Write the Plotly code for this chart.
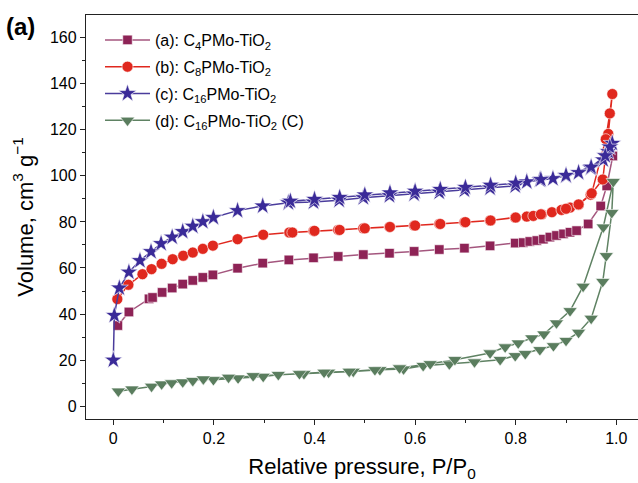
import plotly.graph_objects as go

# ---------------- data ----------------
# (a) C4PMo-TiO2 : squares
a_p = [0.009, 0.031, 0.071, 0.078, 0.097, 0.117, 0.138, 0.158, 0.178, 0.198, 0.247, 0.297,
       0.349, 0.398, 0.447, 0.497, 0.549, 0.598, 0.648, 0.698, 0.749, 0.799, 0.815, 0.828,
       0.842, 0.855, 0.868, 0.881, 0.895, 0.908, 0.921, 0.944, 0.969, 0.981, 0.993]
a_v = [35.0, 40.9, 46.6, 47.2, 49.4, 51.3, 53.0, 54.6, 55.9, 57.0, 59.9, 62.1,
       63.5, 64.4, 65.0, 65.8, 66.4, 67.2, 68.0, 68.6, 69.6, 70.8, 71.0, 71.5,
       71.9, 72.5, 73.4, 74.1, 74.8, 75.5, 76.2, 79.1, 86.9, 95.6, 108.6]

# (b) C8PMo-TiO2 : circles (adsorption then desorption)
b_p_ads = [0.008, 0.030, 0.058, 0.076, 0.096, 0.118, 0.139, 0.158, 0.178, 0.198, 0.247, 0.298,
           0.350, 0.398, 0.447, 0.497, 0.549, 0.598, 0.648, 0.698, 0.749, 0.799, 0.822, 0.835,
           0.852, 0.872, 0.891, 0.908, 0.925, 0.949, 0.973, 0.984, 0.992]
b_v_ads = [46.5, 52.7, 57.3, 59.5, 61.8, 63.8, 65.3, 66.7, 68.3, 69.7, 72.5, 74.4,
           75.4, 76.1, 76.5, 77.2, 77.8, 78.4, 79.1, 79.9, 80.6, 81.9, 82.3, 82.6,
           83.3, 84.2, 85.2, 86.2, 87.4, 91.8, 98.4, 118.2, 135.5]
b_p_des = [0.987, 0.979, 0.951, 0.925, 0.900, 0.850, 0.800, 0.750, 0.700, 0.650, 0.600,
           0.550, 0.500, 0.450, 0.400, 0.356]
b_v_des = [127.1, 115.9, 92.4, 87.6, 85.7, 83.3, 81.9, 80.6, 79.9, 79.1, 78.4,
           77.8, 77.2, 76.5, 76.1, 75.4]

# (c) C16PMo-TiO2 : stars
c_p_ads = [0.0, 0.002, 0.012, 0.031, 0.053, 0.075, 0.095, 0.117, 0.138, 0.158, 0.178, 0.199,
           0.247, 0.297, 0.348, 0.398, 0.449, 0.497, 0.549, 0.598, 0.648, 0.698, 0.749, 0.799,
           0.822, 0.848, 0.874, 0.900, 0.925, 0.949, 0.974, 0.984, 0.992]
c_v_ads = [20.0, 39.4, 51.3, 58.2, 63.2, 67.1, 70.6, 73.4, 75.8, 78.1, 80.1, 81.9,
           84.9, 86.9, 88.3, 88.6, 89.4, 90.5, 91.4, 92.1, 92.9, 93.8, 94.7, 95.6,
           97.4, 98.2, 98.8, 100.0, 101.4, 103.4, 106.9, 110.5, 114.1]
c_p_des = [0.987, 0.978, 0.950, 0.900, 0.850, 0.800, 0.750, 0.700, 0.650, 0.600, 0.550,
           0.500, 0.450, 0.400, 0.352]
c_v_des = [112.5, 108.7, 103.8, 100.2, 98.4, 96.8, 95.9, 95.0, 94.1, 93.3, 92.6,
           91.7, 90.6, 89.8, 89.0]

# (d) C16PMo-TiO2 (C) : down triangles
d_p_ads = [0.010, 0.037, 0.076, 0.096, 0.116, 0.138, 0.158, 0.179, 0.199, 0.248, 0.298, 0.328,
           0.379, 0.428, 0.477, 0.530, 0.577, 0.616, 0.668, 0.718, 0.769, 0.799, 0.819, 0.848,
           0.875, 0.900, 0.925, 0.950, 0.973, 0.980, 0.991, 0.994]
d_v_ads = [6.5, 7.4, 8.6, 9.6, 10.1, 10.5, 11.1, 11.8, 11.5, 12.2, 12.9, 13.7,
           14.1, 14.7, 15.1, 15.8, 16.1, 17.6, 18.3, 19.2, 20.2, 21.9, 22.8, 24.5,
           26.2, 28.5, 32.0, 38.1, 54.1, 65.3, 84.0, 97.5]
d_p_des = [0.974, 0.934, 0.908, 0.881, 0.856, 0.832, 0.805, 0.779, 0.749, 0.679, 0.630,
           0.569, 0.520, 0.469, 0.419, 0.370, 0.278, 0.229, 0.179]
d_v_des = [77.7, 52.0, 41.4, 36.1, 31.3, 29.6, 27.4, 25.7, 23.1, 20.2, 18.4,
           16.6, 15.8, 15.1, 14.7, 14.1, 13.2, 12.5, 11.8]

names = ["(a): C<sub>4</sub>PMo-TiO<sub>2</sub>",
         "(b): C<sub>8</sub>PMo-TiO<sub>2</sub>",
         "(c): C<sub>16</sub>PMo-TiO<sub>2</sub>",
         "(d): C<sub>16</sub>PMo-TiO<sub>2</sub> (C)"]

x_ticks = [0, 0.2, 0.4, 0.6, 0.8, 1.0]
x_ticklabels = ["0", "0.2", "0.4", "0.6", "0.8", "1.0"]
y_ticks = [0, 20, 40, 60, 80, 100, 120, 140, 160]

# ---------------- figure ----------------
FONT = "Arial, 'Liberation Sans', sans-serif"
W, H = 638, 483
ML, MR, MT, MB = 86, 0, 15, 64
PW, PH = W - ML - MR, H - MT - MB

fig = go.Figure()

series = [
    (a_p, a_v, "#8e2356", "#a4567e", "square", 9.5),
    (b_p_ads + b_p_des, b_v_ads + b_v_des, "#e0281e", "#e0281e", "circle", 11),
    (c_p_ads + c_p_des, c_v_ads + c_v_des, "#3a2a98", "#4a3c9c", "star", 13.5),
    (d_p_ads + d_p_des, d_v_ads + d_v_des, "#5a7d5e", "#5f8263", "triangle-down", 12.5),
]
for i, ((xs, ys, mcol, lcol, sym, sz), nm) in enumerate(zip(series, names)):
    fig.add_trace(go.Scatter(
        x=xs, y=ys, mode="lines+markers", name=nm, legendgroup=f"g{i}",
        line=dict(color=lcol, width=1.5),
        marker=dict(symbol=sym, size=sz, color=mcol, line=dict(color="white", width=0.6)),
    ))

fig.update_layout(
    width=W, height=H,
    margin=dict(l=ML, r=MR, t=MT, b=MB),
    paper_bgcolor="white", plot_bgcolor="white",
    font=dict(family=FONT, size=16, color="black"),
    showlegend=True,
    legend=dict(x=(100 - ML) / PW, y=1 - (23 - MT) / PH, xanchor="left", yanchor="top",
                bgcolor="rgba(0,0,0,0)", font=dict(size=16, family=FONT),
                itemwidth=45, tracegroupgap=3, traceorder="grouped"),
    annotations=[dict(text="<b>(a)</b>", xref="paper", yref="paper",
                      x=(4 - ML) / PW, y=1 - (26 - MT) / PH,
                      xanchor="left", yanchor="middle", showarrow=False,
                      font=dict(size=24, family=FONT))],
)

fig.update_xaxes(
    range=[-0.0543, 1.0431], showline=True, linecolor="#222", linewidth=1.3, mirror=True,
    showgrid=False, zeroline=False,
    tickmode="array", tickvals=x_ticks, ticktext=x_ticklabels,
    ticks="outside", ticklen=5, tickwidth=1, tickcolor="#222",
    tickfont=dict(size=16),
    minor=dict(dtick=0.1, ticks="outside", ticklen=3, tickwidth=1, tickcolor="#222", showgrid=False),
    title=dict(text="Relative pressure, P/P<sub>0</sub>", font=dict(size=22), standoff=12),
)
fig.update_yaxes(
    range=[-5.55, 169.8], showline=True, linecolor="#222", linewidth=1.3, mirror=False,
    showgrid=False, zeroline=False,
    tickmode="array", tickvals=y_ticks,
    ticks="outside", ticklen=5, tickwidth=1, tickcolor="#222",
    tickfont=dict(size=16),
    minor=dict(dtick=10, ticks="outside", ticklen=3, tickwidth=1, tickcolor="#222", showgrid=False),
    title=dict(text="Volume, cm<sup>3</sup> g<sup>−1</sup>", font=dict(size=22), standoff=10),
)

fig.write_html("out.html", config={"displayModeBar": False},
               post_script="document.body.style.margin='0';document.body.style.overflow='hidden';")
